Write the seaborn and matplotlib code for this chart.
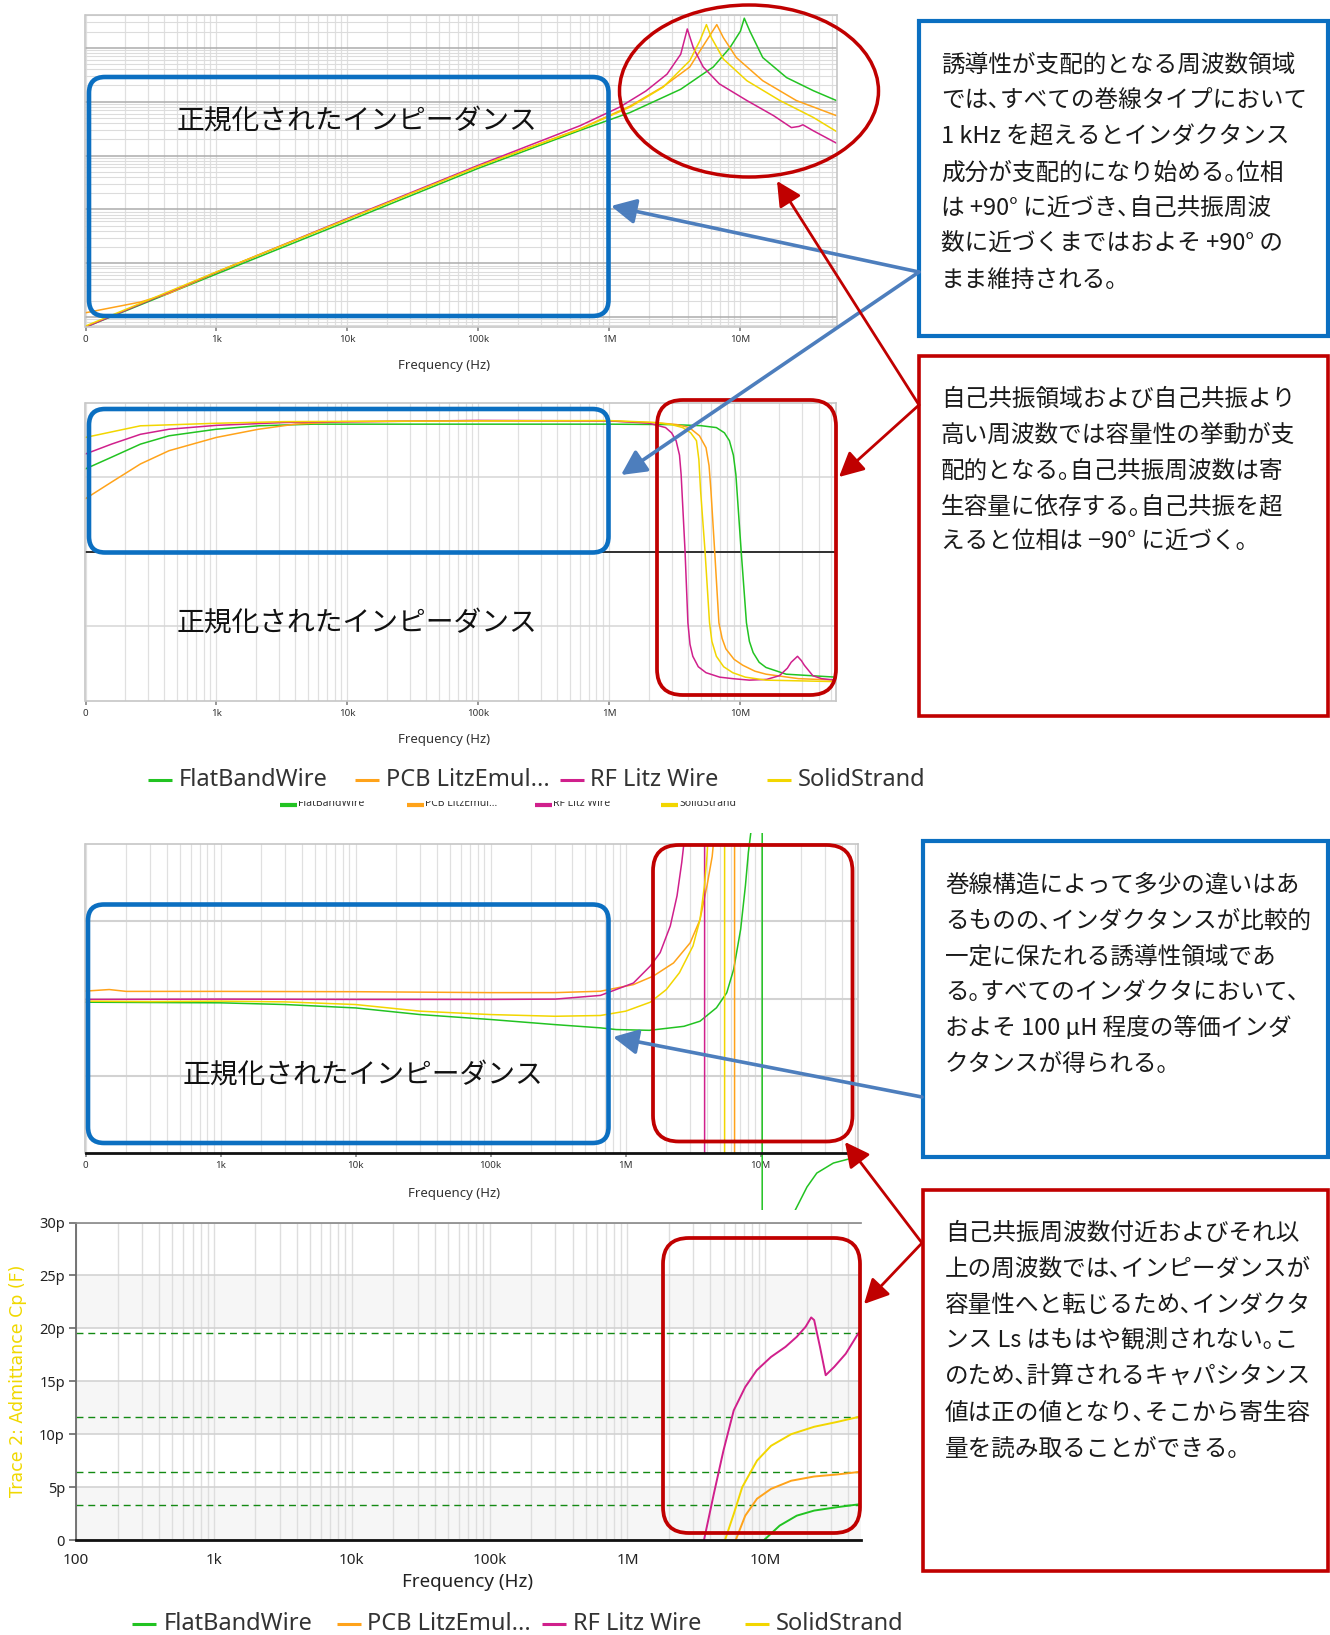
import matplotlib
matplotlib.use("Agg")
import matplotlib.pyplot as plt
import seaborn as sns
import numpy as np
from matplotlib.patches import FancyBboxPatch, Ellipse, Rectangle, FancyArrowPatch
from matplotlib.ticker import LogLocator, NullFormatter, FixedLocator
from matplotlib.transforms import Bbox, TransformedBbox

sns.set_theme(style="white")
plt.rcParams["font.family"] = ["Noto Sans", "DejaVu Sans"]
JP = ["Noto Sans CJK JP", "DejaVu Sans"]

# ---------------------------------------------------------------- data
series = ["FlatBandWire", "PCB LitzEmul...", "RF Litz Wire", "SolidStrand"]
colors = ["#22c322", "#ffa31a", "#d0208c", "#f2d600"]

freq_ticks = [1e2, 1e3, 1e4, 1e5, 1e6, 1e7]
freq_labels_short = ["0", "1k", "10k", "100k", "1M", "10M"]
freq_labels_full = ["100", "1k", "10k", "100k", "1M", "10M"]

# |Z| (ohm) versus frequency (Hz)
z_f_flat = [1e2, 1e3, 1e4, 1e5, 6e5, 1.44e6, 3.5e6, 6.2e6, 8.3e6, 1.0e7, 1.07e7, 1.18e7, 1.48e7, 2.25e7, 3.6e7, 5.4e7]
z_flat = [0.065, 0.63, 6.0, 58, 295, 630, 1700, 4400, 10000, 20400, 35500, 20400, 6600, 2800, 1600, 1050]
z_f_pcb = [1e2, 2.63e2, 4.35e2, 1e3, 1e4, 1e5, 6e5, 1.44e6, 2.57e6, 4.1e6, 5.5e6, 6.6e6, 7.4e6, 9.3e6, 1.48e7, 2.67e7, 5.4e7]
z_pcb = [0.12, 0.19, 0.275, 0.68, 6.6, 63, 316, 830, 1900, 4400, 13500, 27000, 15500, 6600, 2450, 1050, 550]
z_f_rf = [1e2, 1e3, 1e4, 1e5, 6e5, 1.2e6, 1.9e6, 2.75e6, 3.5e6, 3.93e6, 4.37e6, 5.2e6, 6.9e6, 1.12e7, 1.79e7, 2.45e7, 2.8e7, 3.0e7, 3.6e7, 5.4e7]
z_rf = [0.065, 0.68, 6.8, 66, 360, 795, 1580, 3240, 7600, 22400, 10000, 4400, 2140, 1050, 550, 330, 347, 372, 288, 170]
z_f_solid = [1e2, 1e3, 1e4, 1e5, 6e5, 1.44e6, 2.57e6, 4.1e6, 4.9e6, 5.5e6, 6.0e6, 7.4e6, 1.12e7, 2.0e7, 3.6e7, 5.4e7]
z_solid = [0.068, 0.69, 6.6, 63, 310, 795, 1860, 5750, 13500, 27000, 15500, 6200, 2450, 1050, 510, 280]

# phase (deg) versus frequency (Hz)
p_f_flat = [1e2, 158, 263, 435, 1e3, 2.1e3, 5.5e3, 1e5, 1e6, 3e6, 5e6, 6.6e6, 7.6e6, 8.3e6, 8.9e6, 9.3e6, 1.02e7, 1.12e7, 1.18e7, 1.26e7, 1.4e7, 1.58e7, 2.25e7, 5.4e7]
p_flat = [55.8, 63.6, 72.4, 78.0, 82.4, 84.7, 85.8, 85.8, 85.8, 85.5, 84.8, 83.5, 80.0, 74.7, 65.0, 52.0, 1.0, -47.5, -60.0, -67.5, -74.0, -77.5, -82.0, -84.0]
p_f_pcb = [1e2, 158, 263, 435, 1e3, 2.1e3, 4e3, 9.1e3, 1e5, 1e6, 2.5e6, 3.3e6, 4.1e6, 4.9e6, 5.5e6, 5.8e6, 6.0e6, 6.4e6, 6.9e6, 7.3e6, 7.8e6, 9e6, 1.05e7, 1.3e7, 1.58e7, 2.8e7, 5.4e7]
p_pcb = [35.8, 46.9, 59.1, 68.0, 76.9, 82.4, 85.8, 87.5, 88.0, 88.0, 86.5, 85.5, 83.5, 78.0, 70.0, 58.0, 41.0, 1.0, -47.5, -58.0, -65.0, -72.0, -76.0, -80.0, -82.0, -85.0, -86.0]
p_f_rf = [1e2, 158, 263, 435, 1e3, 3.3e3, 1e5, 1e6, 2e6, 2.7e6, 3.0e6, 3.25e6, 3.45e6, 3.55e6, 3.8e6, 4.0e6, 4.15e6, 4.36e6, 4.8e6, 5.5e6, 7e6, 8.8e6, 1.18e7, 1.6e7, 2.0e7, 2.3e7, 2.46e7, 2.75e7, 2.95e7, 3.1e7, 3.6e7, 4.2e7, 5.4e7]
p_rf = [65.8, 72.4, 79.0, 82.4, 85.0, 86.9, 88.3, 88.0, 86.5, 83.5, 80.0, 74.7, 65.0, 52.0, 1.3, -47.5, -62.0, -70.0, -77.0, -81.0, -84.0, -85.0, -86.0, -85.5, -83.0, -78.0, -74.0, -70.0, -73.0, -76.0, -83.0, -85.0, -86.0]
p_f_solid = [1e2, 263, 1e3, 3.3e3, 1e5, 1e6, 2.2e6, 3.0e6, 3.65e6, 4.2e6, 4.65e6, 4.85e6, 5.0e6, 5.4e6, 5.85e6, 6.1e6, 6.6e6, 7.5e6, 8.8e6, 1.1e7, 1.58e7, 5.4e7]
p_solid = [76.9, 84.7, 86.4, 87.5, 88.0, 88.2, 87.0, 85.5, 83.5, 80.0, 74.7, 62.0, 41.0, 1.0, -47.5, -60.0, -70.0, -77.0, -81.0, -84.0, -86.0, -87.0]

# series inductance Ls (uH) versus frequency (Hz)
l_f_flat = [1e2, 1e3, 3e3, 1e4, 3e4, 1e5, 3e5, 6.5e5, 8.5e5, 1.5e6, 2.7e6, 3.55e6, 4.7e6, 5.6e6, 6.3e6, 7.1e6, 7.7e6, 8.1e6, 8.45e6, 9.3e6, 1.025e7, 1.025e7, 1.4e7, 1.8e7, 2.2e7, 2.6e7, 3.45e7, 4.8e7, 5.3e7]
l_flat = [97.6, 97.2, 96.1, 93.9, 89.6, 86.4, 83.1, 81.0, 79.9, 79.4, 82.0, 85.3, 94.0, 103.7, 118.8, 144.8, 173.0, 194.6, 207.6, 400, 2000, -2000, -120, -37, -22, -13, -6.5, -3.2, -2.8]
l_f_pcb = [1e2, 1.5e2, 2e2, 1e3, 1e4, 1e5, 3e5, 6.5e5, 1.14e6, 1.6e6, 2.26e6, 3.0e6, 3.55e6, 4.0e6, 4.37e6, 4.47e6, 5.5e6, 6.4e6, 6.4e6, 1e7]
l_pcb = [104.8, 105.8, 104.6, 104.6, 104.4, 103.8, 103.8, 104.7, 109, 114.5, 123, 136, 151, 173, 192, 201, 600, 2000, -2000, -600]
l_f_rf = [1e2, 1e3, 1e4, 1e5, 3e5, 6.5e5, 1.14e6, 1.52e6, 1.8e6, 2.14e6, 2.4e6, 2.6e6, 2.7e6, 3.2e6, 3.84e6, 3.84e6, 6e6]
l_rf = [99.4, 99.6, 99.4, 99.4, 99.6, 102, 110, 121, 129.7, 147, 166.5, 188, 200.6, 600, 2000, -2000, -600]
l_f_solid = [1e2, 3e2, 1e3, 3e3, 1e4, 3e4, 1e5, 3e5, 6.5e5, 1.0e6, 1.52e6, 2.0e6, 2.5e6, 3.15e6, 3.55e6, 3.83e6, 4.0e6, 4.05e6, 4.6e6, 5.4e6, 5.4e6, 8e6]
l_solid = [98.3, 98.0, 98.3, 97.8, 96.1, 91.8, 89.6, 88.5, 89.0, 91.8, 97.6, 105.8, 116.7, 134, 151, 173, 192.4, 200.6, 600, 2000, -2000, -600]

# parallel capacitance Cp (pF) versus frequency (Hz)
c_f_flat = [9.2e6, 9.8e6, 1.27e7, 1.69e7, 2.26e7, 3.3e7, 4.64e7, 5e7]
c_flat = [-3, 0, 1.36, 2.3, 2.78, 3.1, 3.35, 3.4]
c_f_pcb = [5.8e6, 6.1e6, 7.15e6, 8.7e6, 1.1e7, 1.54e7, 2.26e7, 3.3e7, 4.64e7, 5e7]
c_pcb = [-4, 0, 2.3, 3.9, 4.83, 5.6, 6.0, 6.19, 6.41, 6.45]
c_f_rf = [3.3e6, 3.59e6, 4.23e6, 4.97e6, 5.9e6, 7.15e6, 8.66e6, 1.10e7, 1.40e7, 1.69e7, 1.96e7, 2.15e7, 2.26e7, 2.49e7, 2.74e7, 3.16e7, 3.83e7, 4.64e7, 5.0e7]
c_rf = [-8, 0, 4.36, 8.46, 12.25, 14.46, 16.04, 17.3, 18.25, 19.2, 20.15, 21.03, 20.78, 18.25, 15.57, 16.36, 17.6, 19.36, 20.0]
c_f_solid = [4.8e6, 5.1e6, 5.9e6, 6.8e6, 8.7e6, 1.1e7, 1.54e7, 2.26e7, 3.3e7, 4.64e7, 5e7]
c_solid = [-5, 0, 2.46, 5.0, 7.5, 8.9, 10.0, 10.7, 11.15, 11.6, 11.7]
cp_markers = [19.6, 11.65, 6.44, 3.32]
cp_ticks = [0, 5, 10, 15, 20, 25, 30]
cp_labels = ["0", "5p", "10p", "15p", "20p", "25p", "30p"]

# ---------------------------------------------------------------- figure
W, H = 1330, 1635
fig = plt.figure(figsize=(W / 100, H / 100), dpi=100)
fig.patch.set_facecolor("white")


def panel(x0, y0, x1, y1):
    return fig.add_axes([x0 / W, 1 - y1 / H, (x1 - x0) / W, (y1 - y0) / H])


def curve(ax, f, v, color, lw=1.1):
    sns.lineplot(x=f, y=v, ax=ax, color=color, lw=lw, sort=False,
                 estimator=None, legend=False)
    return ax.lines[-1]


def freq_axis(ax, xmax, labels, size, pad, tick_len):
    ax.set_xlim(100, xmax)
    ax.xaxis.set_major_locator(FixedLocator(freq_ticks))
    ax.set_xticklabels(labels)
    ax.xaxis.set_minor_locator(LogLocator(base=10, subs=np.arange(2, 10), numticks=100))
    ax.xaxis.set_minor_formatter(NullFormatter())
    ax.grid(True, axis="x", which="both", color="#e0e0e0", lw=0.9)
    ax.tick_params(axis="x", which="major", bottom=True, length=tick_len,
                   color="#8a8a8a", labelsize=size, pad=pad, labelcolor="#333333")
    ax.tick_params(axis="x", which="minor", length=0)
    ax.set_xlabel("")
    ax.set_ylabel("")


def frame(ax, color="#c6c6c6", lw=1.2):
    for s in ax.spines.values():
        s.set_visible(True)
        s.set_color(color)
        s.set_linewidth(lw)


# --- panel 1: impedance magnitude
ax1 = panel(85.5, 15, 837, 327)
ax1.set_xscale("log")
ax1.set_yscale("log")
for f, v, c in zip([z_f_flat, z_f_pcb, z_f_rf, z_f_solid],
                   [z_flat, z_pcb, z_rf, z_solid], colors):
    curve(ax1, f, v, c)
freq_axis(ax1, 5.46e7, freq_labels_short, 7, 3, 3)
ax1.set_ylim(0.0653, 40700)
ax1.yaxis.set_major_locator(LogLocator(base=10, numticks=20))
ax1.yaxis.set_minor_locator(LogLocator(base=10, subs=np.arange(2, 10), numticks=100))
ax1.yaxis.set_minor_formatter(NullFormatter())
ax1.grid(True, axis="y", which="major", color="#acacac", lw=1.1)
ax1.grid(True, axis="y", which="minor", color="#dcdcdc", lw=0.8)
ax1.tick_params(axis="y", which="both", length=0, labelleft=False)
frame(ax1)

# --- panel 2: phase
ax2 = panel(85.5, 403, 836.5, 701)
ax2.set_xscale("log")
for f, v, c in zip([p_f_flat, p_f_pcb, p_f_rf, p_f_solid],
                   [p_flat, p_pcb, p_rf, p_solid], colors):
    curve(ax2, f, v, c)
freq_axis(ax2, 5.46e7, freq_labels_short, 7, 3, 3)
ax2.set_ylim(-100, 100)
ax2.set_yticks([-50, 0, 50])
ax2.grid(True, axis="y", color="#d6d6d6", lw=1.1)
ax2.axhline(0, color="#303030", lw=1.4, zorder=1)
ax2.tick_params(axis="y", length=0, labelleft=False)
frame(ax2)

# --- panel 3: series inductance
ax3 = panel(85.5, 844, 858, 1153)
ax3.set_xscale("log")
l_lines = []
for f, v, c in zip([l_f_flat, l_f_pcb, l_f_rf, l_f_solid],
                   [l_flat, l_pcb, l_rf, l_solid], colors):
    l_lines.append(curve(ax3, f, v, c))
freq_axis(ax3, 5.25e7, freq_labels_short, 7, 3, 3)
ax3.set_ylim(0, 200)
ax3.set_yticks([50, 100, 150])
ax3.grid(True, axis="y", color="#d2d2d2", lw=1.5)
ax3.tick_params(axis="y", length=0, labelleft=False)
frame(ax3)
ax3.spines["bottom"].set_color("#111111")
ax3.spines["bottom"].set_linewidth(2.0)
# the FlatBandWire trace spills a little past the plot frame
l_lines[0].set_clip_box(TransformedBbox(
    Bbox.from_extents(85.5 / W, 1 - 1210 / H, 858 / W, 1 - 833 / H), fig.transFigure))

# --- panel 4: parallel capacitance
ax4 = panel(76, 1222.5, 860.5, 1540)
ax4.set_xscale("log")
for lo, hi in [(0, 5), (10, 15), (20, 25)]:
    ax4.axhspan(lo, hi, color="#f6f6f6", lw=0, zorder=0)
for f, v, c in zip([c_f_flat, c_f_pcb, c_f_rf, c_f_solid],
                   [c_flat, c_pcb, c_rf, c_solid], colors):
    curve(ax4, f, v, c, lw=1.4)
for m in cp_markers:
    ax4.axhline(m, color="#138a13", lw=1.0, ls=(0, (5, 3.5)), zorder=1.5)
freq_axis(ax4, 4.9e7, freq_labels_full, 11, 9, 0)
ax4.grid(True, axis="x", which="both", color="#dedede", lw=1.0)
ax4.set_ylim(0, 30)
ax4.set_yticks(cp_ticks)
ax4.set_yticklabels(cp_labels)
ax4.grid(True, axis="y", color="#d0d0d0", lw=1.1)
ax4.tick_params(axis="y", length=5, color="#707070", labelsize=10.5,
                pad=3, left=True, labelcolor="#222222")
ax4.tick_params(axis="x", labelcolor="#222222")
for s in ax4.spines.values():
    s.set_visible(True)
ax4.spines["right"].set_visible(False)
ax4.spines["top"].set_color("#8c8c8c")
ax4.spines["left"].set_color("#6a6a6a")
ax4.spines["left"].set_linewidth(1.3)
ax4.spines["bottom"].set_color("#111111")
ax4.spines["bottom"].set_linewidth(2.0)

# ---------------------------------------------------------------- annotations
ov = fig.add_axes([0, 0, 1, 1], zorder=10)
ov.set_xlim(0, W)
ov.set_ylim(H, 0)
ov.axis("off")
ov.patch.set_visible(False)

BLUE = "#0b6fc1"
RED = "#c00000"
ARROW_BLUE = "#4d7ebd"

ov.text(444, 365, "Frequency (Hz)", ha="center", va="center", fontsize=9.5, color="#333333")
ov.text(444, 739, "Frequency (Hz)", ha="center", va="center", fontsize=9.5, color="#333333")
ov.text(454, 1193, "Frequency (Hz)", ha="center", va="center", fontsize=9.5, color="#333333")
ov.text(468, 1582, "Frequency (Hz)", ha="center", va="center", fontsize=13.5, color="#222222")
ov.text(18, 1381, "Trace 2: Admittance Cp (F)", ha="center", va="center", rotation=90,
        fontsize=12.5, color="#f0d800", family=["DejaVu Sans"])

# region boxes inside the panels
for (x0, y0, x1, y1) in [(89, 77, 608.5, 316), (89, 409, 608.5, 552.5), (88, 904.5, 608.5, 1143)]:
    ov.add_patch(FancyBboxPatch((x0, y0), x1 - x0, y1 - y0,
                                boxstyle="round,pad=0,rounding_size=16",
                                fc="none", ec=BLUE, lw=3.3, zorder=5))
for (x0, y0, x1, y1) in [(657, 400, 836, 695), (653, 845, 852.5, 1141.5), (663, 1238, 860, 1533)]:
    ov.add_patch(FancyBboxPatch((x0, y0), x1 - x0, y1 - y0,
                                boxstyle="round,pad=0,rounding_size=26",
                                fc="none", ec=RED, lw=2.7, zorder=5))
ov.add_patch(Ellipse((749, 91), 259, 172, fc="none", ec=RED, lw=2.5, zorder=5))

for (x, y) in [(177, 121), (177, 623), (183, 1075)]:
    ov.text(x, y, "正規化されたインピーダンス", ha="left", va="center",
            fontsize=20, family=JP, color="#111111", zorder=6)

# explanation boxes
ov.add_patch(Rectangle((918.5, 20.5), 409.5, 315.5, fc="white", ec=BLUE, lw=3.0, zorder=4))
ov.add_patch(Rectangle((918.5, 355.5), 409.5, 360.5, fc="white", ec=RED, lw=2.6, zorder=4))
ov.add_patch(Rectangle((922.5, 840.5), 405.5, 316, fc="white", ec=BLUE, lw=3.0, zorder=4))
ov.add_patch(Rectangle((922.5, 1190), 405.5, 381, fc="white", ec=RED, lw=2.6, zorder=4))

box_text_1 = ["誘導性が支配的となる周波数領域",
              "では、すべての巻線タイプにおいて",
              "1 kHz を超えるとインダクタンス",
              "成分が支配的になり始める。位相",
              "は +90° に近づき、自己共振周波",
              "数に近づくまではおよそ +90° の",
              "まま維持される。"]
box_text_2 = ["自己共振領域および自己共振より",
              "高い周波数では容量性の挙動が支",
              "配的となる。自己共振周波数は寄",
              "生容量に依存する。自己共振を超",
              "えると位相は −90° に近づく。"]
box_text_3 = ["巻線構造によって多少の違いはあ",
              "るものの、インダクタンスが比較的",
              "一定に保たれる誘導性領域であ",
              "る。すべてのインダクタにおいて、",
              "およそ 100 µH 程度の等価インダ",
              "クタンスが得られる。"]
box_text_4 = ["自己共振周波数付近およびそれ以",
              "上の周波数では、インピーダンスが",
              "容量性へと転じるため、インダクタ",
              "ンス Ls はもはや観測されない。こ",
              "のため、計算されるキャパシタンス",
              "値は正の値となり、そこから寄生容",
              "量を読み取ることができる。"]

# body text is set with half-width punctuation
HALF_PUNCT = str.maketrans({"、": "､", "。": "｡"})
for lines, x, y0 in [(box_text_1, 941, 71.5), (box_text_2, 941, 405.5),
                     (box_text_3, 945, 891.5), (box_text_4, 945, 1240)]:
    for i, s in enumerate(lines):
        ov.text(x, y0 + i * 35.9, s.translate(HALF_PUNCT), ha="left", va="baseline",
                fontsize=17, family=JP, color="#1a1a1a", zorder=6)


def arrow(p0, p1, color, lw):
    ov.add_patch(FancyArrowPatch(p0, p1, arrowstyle="-|>,head_length=0.75,head_width=0.38",
                                 mutation_scale=20, color=color, lw=lw,
                                 shrinkA=0, shrinkB=0, zorder=7))


arrow((919, 272), (611, 206), ARROW_BLUE, 2.6)
arrow((919, 272), (621, 475), ARROW_BLUE, 2.6)
arrow((919, 405), (777, 181), RED, 2.0)
arrow((919, 405), (839, 477), RED, 2.0)
arrow((922, 1097), (613, 1037), ARROW_BLUE, 2.6)
arrow((922, 1243), (845, 1142), RED, 2.0)
arrow((922, 1243), (864, 1304), RED, 2.0)


# legends
def legend_row(y, swatch_x, text_x, size, lw, sw, z=6):
    for name, c, sx, tx in zip(series, colors, swatch_x, text_x):
        ov.plot([sx, sx + sw], [y, y], color=c, lw=lw, solid_capstyle="butt", zorder=z)
        ov.text(tx, y, name, ha="left", va="center", fontsize=size,
                color="#333333", zorder=z)


# small, partly hidden legend under the phase plot
for name, c, sx in zip(series, colors, [280, 407, 535, 661]):
    ov.plot([sx, sx + 17], [805, 805], color=c, lw=3, solid_capstyle="butt", zorder=2)
    ov.text(sx + 18, 806, name, ha="left", va="baseline", fontsize=7.5,
            color="#333333", zorder=2)
ov.add_patch(Rectangle((260, 760), 520, 41, fc="white", ec="none", zorder=3))

legend_row(780, [148, 355, 560, 767], [179, 386, 590, 798], 17, 2.2, 24)
legend_row(1624, [132, 337, 542, 745], [164, 367, 573, 776], 17, 2.2, 24)

fig.savefig("out.png", dpi=100, facecolor="white")
